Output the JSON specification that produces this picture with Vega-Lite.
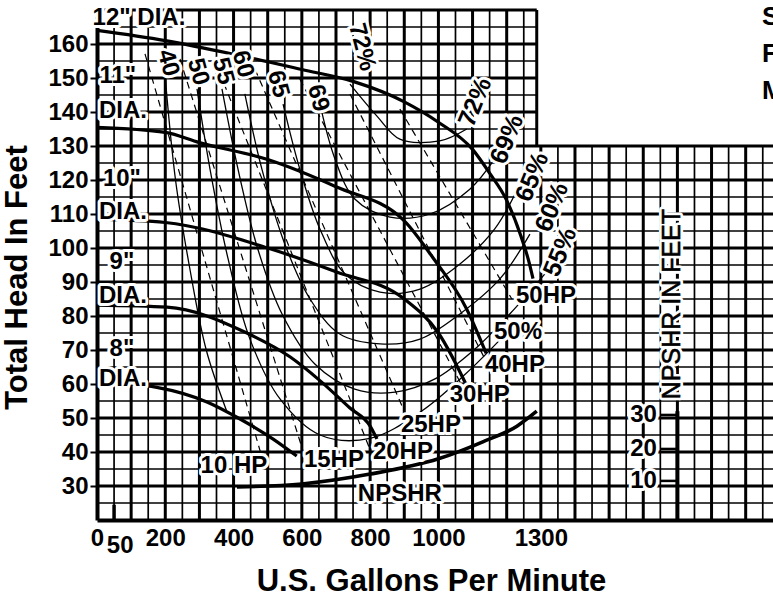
{
  "$schema": "https://vega.github.io/schema/vega-lite/v6.json",
  "width": 676,
  "height": 510,
  "autosize": "none",
  "padding": {"left": 97, "top": 10, "right": 0, "bottom": 77},
  "background": "white",
  "config": {"view": {"stroke": null}, "font": "Liberation Sans", "axis": {"labelOverlap": false, "labelBound": false}},
  "datasets": {
    "vmaj": [{"q":100},{"q":200},{"q":300},{"q":400},{"q":500},{"q":600},{"q":700},{"q":800},{"q":900},{"q":1000},{"q":1100},{"q":1200}],
    "vmajR": [{"q":1300},{"q":1400},{"q":1500},{"q":1600},{"q":1700},{"q":1800},{"q":1900}],
    "vmin": [{"q":50},{"q":150},{"q":250},{"q":350},{"q":450},{"q":550},{"q":650},{"q":750},{"q":850},{"q":950},{"q":1050},{"q":1150},{"q":1250}],
    "vminR": [{"q":1350},{"q":1450},{"q":1550},{"q":1650},{"q":1750},{"q":1850},{"q":1950}],
    "hmaj": [{"h":30},{"h":40},{"h":50},{"h":60},{"h":70},{"h":80},{"h":90},{"h":100},{"h":110},{"h":120},{"h":130}],
    "hmajT": [{"h":140},{"h":150},{"h":160},{"h":170}],
    "hmin": [{"h":25},{"h":35},{"h":45},{"h":55},{"h":65},{"h":75},{"h":85},{"h":95},{"h":105},{"h":115},{"h":125}],
    "hminT": [{"h":135},{"h":145},{"h":155},{"h":165}],
    "head": [
      {"d":"12","q":0,"h":164},{"d":"12","q":200,"h":161},{"d":"12","q":400,"h":157},{"d":"12","q":600,"h":152.5},{"d":"12","q":750,"h":149},{"d":"12","q":900,"h":143},{"d":"12","q":1000,"h":137},{"d":"12","q":1100,"h":129},{"d":"12","q":1150,"h":122},{"d":"12","q":1200,"h":114},{"d":"12","q":1240,"h":104},{"d":"12","q":1265,"h":96},{"d":"12","q":1277,"h":91},
      {"d":"11","q":0,"h":135.5},{"d":"11","q":200,"h":134},{"d":"11","q":300,"h":131},{"d":"11","q":500,"h":126},{"d":"11","q":700,"h":118},{"d":"11","q":900,"h":108},{"d":"11","q":985,"h":97},{"d":"11","q":1083,"h":82},{"d":"11","q":1140,"h":69},
      {"d":"10","q":0,"h":108.5},{"d":"10","q":200,"h":107.5},{"d":"10","q":500,"h":100},{"d":"10","q":700,"h":93},{"d":"10","q":900,"h":85},{"d":"10","q":1000,"h":75},{"d":"10","q":1090,"h":58},
      {"d":"9","q":0,"h":83.2},{"d":"9","q":205,"h":82.6},{"d":"9","q":439,"h":75},{"d":"9","q":565,"h":68},{"d":"9","q":653,"h":61},{"d":"9","q":740,"h":53},{"d":"9","q":800,"h":47.6},{"d":"9","q":820,"h":43.8},
      {"d":"8","q":0,"h":60.6},{"d":"8","q":175,"h":59},{"d":"8","q":322,"h":54.7},{"d":"8","q":419,"h":49.7},{"d":"8","q":516,"h":43.8},{"d":"8","q":585,"h":38.8}
    ],
    "npshr": [{"q":410,"h":29.7},{"q":600,"h":30.6},{"q":800,"h":33.5},{"q":1000,"h":38},{"q":1130,"h":43},{"q":1230,"h":47.6},{"q":1288,"h":52}],
    "eff": [
      {"e":"72","i":1,"q":741,"h":148.2},{"e":"72","i":2,"q":820,"h":138.8},{"e":"72","i":3,"q":887,"h":132},{"e":"72","i":4,"q":1004,"h":131.5},{"e":"72","i":5,"q":1083,"h":135},
      {"e":"69","i":1,"q":653,"h":142.3},{"e":"69","i":2,"q":697,"h":126.2},{"e":"69","i":3,"q":755,"h":114.4},{"e":"69","i":4,"q":858,"h":109.1},{"e":"69","i":5,"q":975,"h":110},{"e":"69","i":6,"q":1092,"h":117.3},{"e":"69","i":7,"q":1165,"h":126.2},
      {"e":"65","i":1,"q":545,"h":142.3},{"e":"65","i":2,"q":594,"h":123.2},{"e":"65","i":3,"q":653,"h":105.6},{"e":"65","i":4,"q":726,"h":92.4},{"e":"65","i":5,"q":829,"h":87},{"e":"65","i":6,"q":946,"h":87.9},{"e":"65","i":7,"q":1063,"h":95.3},{"e":"65","i":8,"q":1165,"h":105.6},{"e":"65","i":9,"q":1239,"h":118.8},
      {"e":"60","i":1,"q":433,"h":145.3},{"e":"60","i":2,"q":483,"h":123.2},{"e":"60","i":3,"q":550,"h":101.2},{"e":"60","i":4,"q":624,"h":85},{"e":"60","i":5,"q":711,"h":74.7},{"e":"60","i":6,"q":829,"h":71.8},{"e":"60","i":7,"q":946,"h":73.2},{"e":"60","i":8,"q":1063,"h":80.6},{"e":"60","i":9,"q":1180,"h":90.9},{"e":"60","i":10,"q":1268,"h":104.1},
      {"e":"55","i":1,"q":366,"h":146.8},{"e":"55","i":2,"q":413,"h":123.2},{"e":"55","i":3,"q":471,"h":99.7},{"e":"55","i":4,"q":542,"h":80.6},{"e":"55","i":5,"q":638,"h":65.9},{"e":"55","i":6,"q":755,"h":58.5},{"e":"55","i":7,"q":873,"h":57.6},{"e":"55","i":8,"q":990,"h":61.5},{"e":"55","i":9,"q":1107,"h":70.3},{"e":"55","i":10,"q":1209,"h":80.6},{"e":"55","i":11,"q":1312,"h":92.4},
      {"e":"50","i":1,"q":293,"h":146.8},{"e":"50","i":2,"q":331,"h":123.2},{"e":"50","i":3,"q":384,"h":96.8},{"e":"50","i":4,"q":448,"h":73.2},{"e":"50","i":5,"q":536,"h":55.6},{"e":"50","i":6,"q":653,"h":45},{"e":"50","i":7,"q":800,"h":44},{"e":"50","i":8,"q":950,"h":52},{"e":"50","i":9,"q":1080,"h":63},{"e":"50","i":10,"q":1190,"h":74},
      {"e":"40","i":1,"q":200,"h":150},{"e":"40","i":2,"q":230,"h":120},{"e":"40","i":3,"q":270,"h":95},{"e":"40","i":4,"q":320,"h":70},{"e":"40","i":5,"q":380,"h":52}
    ],
    "hp": [
      {"p":"10","q":140.6,"h":157.1},{"p":"10","q":483,"h":38.5},
      {"p":"15","q":243,"h":155.6},{"p":"15","q":609,"h":38.5},
      {"p":"20","q":345.5,"h":155},{"p":"20","q":799,"h":40.9},
      {"p":"25","q":462.6,"h":152.6},{"p":"25","q":916.5,"h":48.2},
      {"p":"30","q":594,"h":149.7},{"p":"30","q":1077.5,"h":57.9},
      {"p":"40","q":741,"h":145.3},{"p":"40","q":1136,"h":67.4},
      {"p":"50","q":887,"h":140.9},{"p":"50","q":1215,"h":85}
    ],
    "labels": [
      {"t":"12\" DIA.","q":123,"h":167.6},
      {"t":"11\"","q":61,"h":150.6},{"t":"DIA.","q":76,"h":140.3},
      {"t":"10\"","q":73,"h":120.3},{"t":"DIA.","q":76,"h":110.6},
      {"t":"9\"","q":73,"h":95.9},{"t":"DIA.","q":76,"h":85.9},
      {"t":"8\"","q":73,"h":70.3},{"t":"DIA.","q":76,"h":61.5},
      {"t":"10 HP","q":401,"h":35.9},{"t":"15HP","q":694,"h":37.6},{"t":"20HP","q":896,"h":40},
      {"t":"25HP","q":978,"h":47.9},{"t":"30HP","q":1121,"h":56.8},{"t":"40HP","q":1224,"h":65.6},
      {"t":"50HP","q":1315,"h":85.9},{"t":"50%","q":1233,"h":75.3},{"t":"NPSHR","q":887,"h":27.6}
    ],
    "toplab": [
      {"t":"40","q":208,"h":154.4},{"t":"50","q":296,"h":151.8},{"t":"55","q":369,"h":152},
      {"t":"60","q":427,"h":154.1},{"t":"65","q":530,"h":148.2},{"t":"69","q":647,"h":144.1},{"t":"72%","q":776,"h":159.1}
    ],
    "rightlab": [
      {"t":"72%","q":1107,"h":142.9},{"t":"69%","q":1200,"h":132},{"t":"65%","q":1274,"h":120.9},
      {"t":"60%","q":1332,"h":112},{"t":"55%","q":1356,"h":98.8}
    ],
    "npaxis": [{"t":"30","h":50.9},{"t":"20","h":40.9},{"t":"10","h":31.5}],
    "corner": [{"t":"S","h":168},{"t":"F","h":157},{"t":"M","h":146.2}]
  },
  "layer": [
    {"data":{"name":"vmin"},"mark":{"type":"rule","color":"black","strokeWidth":1.7},
     "encoding":{"x":{"field":"q","type":"quantitative","scale":{"domain":[0,1980],"nice":false},
       "axis":{"values":[0,200,400,600,800,1000,1300],"tickCount":30,"format":"d","labelOverlap":false,"title":"U.S. Gallons Per Minute","grid":false,"ticks":false,"domainWidth":4,"domainColor":"black","labelFont":"Liberation Sans","labelFontWeight":"bold","labelFontSize":24,"labelColor":"black","labelPadding":6,"labelFlush":false,"titleFont":"Liberation Sans","titleFontSize":31,"titleFontWeight":"bold","titleColor":"black","titleX":334,"titleY":70,"titleBaseline":"alphabetic"}},
       "y":{"datum":20,"type":"quantitative","scale":{"domain":[20,170],"nice":false},
       "axis":{"values":[30,40,50,60,70,80,90,100,110,120,130,140,150,160],"tickCount":30,"format":"d","labelOverlap":false,"title":"Total Head In Feet","grid":false,"tickSize":7,"tickWidth":2,"tickColor":"black","domainWidth":4,"domainColor":"black","labelFont":"Liberation Sans","labelFontWeight":"bold","labelFontSize":24,"labelColor":"black","labelPadding":2,"labelFlush":false,"titleFont":"Liberation Sans","titleFontSize":31,"titleFontWeight":"bold","titleColor":"black","titleX":-64,"titleY":267}},
       "y2":{"datum":170}}},
    {"data":{"name":"vminR"},"mark":{"type":"rule","color":"black","strokeWidth":1.7},
     "encoding":{"x":{"field":"q","type":"quantitative"},"y":{"datum":20,"type":"quantitative"},"y2":{"datum":130}}},
    {"data":{"name":"vmaj"},"mark":{"type":"rule","color":"black","strokeWidth":3},
     "encoding":{"x":{"field":"q","type":"quantitative"},"y":{"datum":20,"type":"quantitative"},"y2":{"datum":170}}},
    {"data":{"name":"vmajR"},"mark":{"type":"rule","color":"black","strokeWidth":3},
     "encoding":{"x":{"field":"q","type":"quantitative"},"y":{"datum":20,"type":"quantitative"},"y2":{"datum":130}}},
    {"data":{"name":"hmin"},"mark":{"type":"rule","color":"black","strokeWidth":1.7},
     "encoding":{"y":{"field":"h","type":"quantitative"},"x":{"datum":0,"type":"quantitative"},"x2":{"datum":1980}}},
    {"data":{"name":"hminT"},"mark":{"type":"rule","color":"black","strokeWidth":1.7},
     "encoding":{"y":{"field":"h","type":"quantitative"},"x":{"datum":0,"type":"quantitative"},"x2":{"datum":1288}}},
    {"data":{"name":"hmaj"},"mark":{"type":"rule","color":"black","strokeWidth":3},
     "encoding":{"y":{"field":"h","type":"quantitative"},"x":{"datum":0,"type":"quantitative"},"x2":{"datum":1980}}},
    {"data":{"name":"hmajT"},"mark":{"type":"rule","color":"black","strokeWidth":3},
     "encoding":{"y":{"field":"h","type":"quantitative"},"x":{"datum":0,"type":"quantitative"},"x2":{"datum":1288}}},
    {"data":{"values":[{"q":1288}]},"mark":{"type":"rule","color":"black","strokeWidth":3},
     "encoding":{"x":{"field":"q","type":"quantitative"},"y":{"datum":130,"type":"quantitative"},"y2":{"datum":170}}},
    {"data":{"name":"hp"},"mark":{"type":"line","color":"black","strokeWidth":1.2,"strokeDash":[7,5]},
     "encoding":{"x":{"field":"q","type":"quantitative"},"y":{"field":"h","type":"quantitative"},"detail":{"field":"p"}}},
    {"data":{"name":"eff"},"mark":{"type":"line","color":"black","strokeWidth":1.3,"interpolate":"catmull-rom"},
     "encoding":{"x":{"field":"q","type":"quantitative"},"y":{"field":"h","type":"quantitative"},"detail":{"field":"e"},"order":{"field":"i"}}},
    {"data":{"name":"head"},"mark":{"type":"line","color":"black","strokeWidth":3.2,"interpolate":"monotone"},
     "encoding":{"x":{"field":"q","type":"quantitative"},"y":{"field":"h","type":"quantitative"},"detail":{"field":"d"}}},
    {"data":{"name":"npshr"},"mark":{"type":"line","color":"black","strokeWidth":3.6,"interpolate":"monotone"},
     "encoding":{"x":{"field":"q","type":"quantitative"},"y":{"field":"h","type":"quantitative"}}},
    {"data":{"values":[{"q":1700}]},"mark":{"type":"rule","color":"black","strokeWidth":4},
     "encoding":{"x":{"field":"q","type":"quantitative"},"y":{"datum":20,"type":"quantitative"},"y2":{"datum":52}}},
    {"data":{"values":[{"q":50}]},"mark":{"type":"rule","color":"black","strokeWidth":3.5},
     "encoding":{"x":{"field":"q","type":"quantitative"},"y":{"datum":20,"type":"quantitative"},"y2":{"datum":24.5}}},
    {"data":{"name":"npaxis"},"mark":{"type":"rule","color":"black","strokeWidth":2.5},
     "encoding":{"y":{"field":"h","type":"quantitative"},"x":{"datum":1650,"type":"quantitative"},"x2":{"datum":1700}}},
    {"data":{"name":"labels"},"mark":{"type":"text","font":"Liberation Sans","fontWeight":"bold","fontSize":24,"stroke":"white","strokeWidth":6,"strokeJoin":"round","color":"white"},
     "encoding":{"x":{"field":"q","type":"quantitative"},"y":{"field":"h","type":"quantitative"},"text":{"field":"t"}}},
    {"data":{"name":"labels"},"mark":{"type":"text","font":"Liberation Sans","fontWeight":"bold","fontSize":24,"color":"black"},
     "encoding":{"x":{"field":"q","type":"quantitative"},"y":{"field":"h","type":"quantitative"},"text":{"field":"t"}}},
    {"data":{"name":"toplab"},"mark":{"type":"text","font":"Liberation Sans","fontWeight":"bold","fontSize":24,"angle":75,"stroke":"white","strokeWidth":6,"strokeJoin":"round","color":"white"},
     "encoding":{"x":{"field":"q","type":"quantitative"},"y":{"field":"h","type":"quantitative"},"text":{"field":"t"}}},
    {"data":{"name":"toplab"},"mark":{"type":"text","font":"Liberation Sans","fontWeight":"bold","fontSize":24,"angle":75,"color":"black"},
     "encoding":{"x":{"field":"q","type":"quantitative"},"y":{"field":"h","type":"quantitative"},"text":{"field":"t"}}},
    {"data":{"name":"rightlab"},"mark":{"type":"text","font":"Liberation Sans","fontWeight":"bold","fontSize":25,"angle":-68,"stroke":"white","strokeWidth":6,"strokeJoin":"round","color":"white"},
     "encoding":{"x":{"field":"q","type":"quantitative"},"y":{"field":"h","type":"quantitative"},"text":{"field":"t"}}},
    {"data":{"name":"rightlab"},"mark":{"type":"text","font":"Liberation Sans","fontWeight":"bold","fontSize":25,"angle":-68,"color":"black"},
     "encoding":{"x":{"field":"q","type":"quantitative"},"y":{"field":"h","type":"quantitative"},"text":{"field":"t"}}},
    {"data":{"values":[{"t":"NPSHR IN FEET","q":1684,"h":83.5}]},"mark":{"type":"text","font":"Liberation Sans","fontSize":25,"angle":-90,"stroke":"white","strokeWidth":6,"strokeJoin":"round","color":"white"},
     "encoding":{"x":{"field":"q","type":"quantitative"},"y":{"field":"h","type":"quantitative"},"text":{"field":"t"}}},
    {"data":{"values":[{"t":"NPSHR IN FEET","q":1684,"h":83.5}]},"mark":{"type":"text","font":"Liberation Sans","fontSize":25,"angle":-90,"color":"black","stroke":"black","strokeWidth":0.6},
     "encoding":{"x":{"field":"q","type":"quantitative"},"y":{"field":"h","type":"quantitative"},"text":{"field":"t"}}},
    {"data":{"name":"npaxis"},"mark":{"type":"text","font":"Liberation Sans","fontWeight":"bold","fontSize":24,"align":"right","stroke":"white","strokeWidth":6,"strokeJoin":"round","color":"white"},
     "encoding":{"x":{"datum":1640,"type":"quantitative"},"y":{"field":"h","type":"quantitative"},"text":{"field":"t"}}},
    {"data":{"name":"npaxis"},"mark":{"type":"text","font":"Liberation Sans","fontWeight":"bold","fontSize":24,"align":"right","color":"black"},
     "encoding":{"x":{"datum":1640,"type":"quantitative"},"y":{"field":"h","type":"quantitative"},"text":{"field":"t"}}},
    {"data":{"values":[{"t":"50","q":68,"h":12.5}]},"mark":{"type":"text","font":"Liberation Sans","fontWeight":"bold","fontSize":24,"color":"black"},
     "encoding":{"x":{"field":"q","type":"quantitative"},"y":{"field":"h","type":"quantitative"},"text":{"field":"t"}}},
    {"data":{"name":"corner"},"mark":{"type":"text","font":"Liberation Sans","fontWeight":"bold","fontSize":26,"align":"left","color":"black"},
     "encoding":{"x":{"datum":1948,"type":"quantitative"},"y":{"field":"h","type":"quantitative"},"text":{"field":"t"}}}
  ]
}
